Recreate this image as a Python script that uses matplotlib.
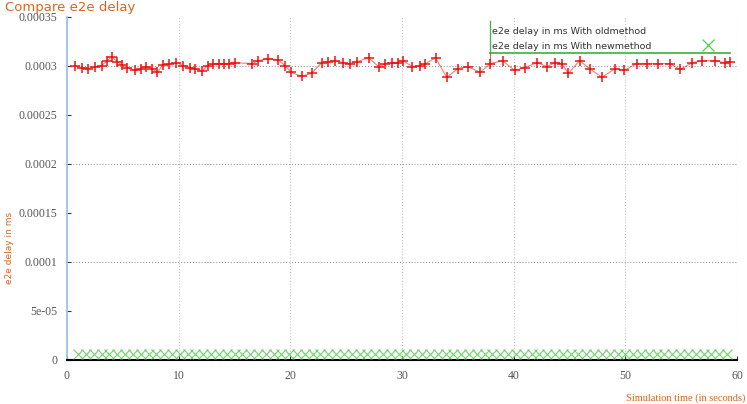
import matplotlib
matplotlib.use("Agg")
import matplotlib.pyplot as plt
import numpy as np

# ---- data ----
old_t = [0.7, 1.3, 1.9, 2.5, 3.1, 3.6, 4.0, 4.5, 4.9, 5.4, 6.1, 6.6, 7.1, 7.6, 8.1, 8.6, 9.1, 9.8,
         10.4, 11.0, 11.5, 12.1, 12.6, 13.1, 13.6, 14.1, 14.5, 15.0,
         16.6, 17.1, 18.0, 18.9, 19.5, 20.1, 21.0, 21.9, 22.8, 23.4, 24.0, 24.7, 25.3, 26.0,
         27.0, 27.9, 28.5, 29.1, 29.6, 30.1, 30.9, 31.6, 32.1, 33.0, 34.0, 35.0, 35.9, 37.0,
         37.9, 39.0, 40.1, 41.0, 42.1, 43.0, 43.7, 44.3, 44.9, 45.9, 46.8, 47.9, 49.1, 49.9,
         51.0, 51.9, 52.9, 54.0, 54.9, 56.0, 56.9, 58.0, 58.9, 59.4]
old_v = [0.0003000, 0.0002975, 0.0002970, 0.0002985, 0.0003000, 0.0003050, 0.0003090, 0.0003040, 0.0003005, 0.0002980,
         0.0002950, 0.0002970, 0.0002990, 0.0002970, 0.0002930, 0.0003010, 0.0003015, 0.0003030,
         0.0003000, 0.0002980, 0.0002970, 0.0002940, 0.0003000, 0.0003020, 0.0003020, 0.0003020,
         0.0003020, 0.0003030,
         0.0003020, 0.0003050, 0.0003070, 0.0003060, 0.0003000, 0.0002930, 0.0002890, 0.0002920,
         0.0003030, 0.0003040, 0.0003050, 0.0003030, 0.0003020, 0.0003040,
         0.0003080, 0.0002990, 0.0003020, 0.0003030, 0.0003030, 0.0003050, 0.0002990, 0.0003000,
         0.0003020, 0.0003080, 0.0002880, 0.0002970, 0.0002990, 0.0002930,
         0.0003020, 0.0003050, 0.0002950, 0.0002980, 0.0003030, 0.0002990, 0.0003030, 0.0003020,
         0.0002920, 0.0003050, 0.0002970, 0.0002880, 0.0002970, 0.0002950,
         0.0003020, 0.0003020, 0.0003020, 0.0003020, 0.0002960, 0.0003030, 0.0003050, 0.0003050,
         0.0003030, 0.0003040]

new_t = [1.0, 1.7, 2.4, 3.1, 3.8, 4.5, 5.2, 5.9, 6.6, 7.3, 8.0, 8.7, 9.4, 10.1, 10.8, 11.5, 12.2,
         12.9, 13.6, 14.3, 15.0, 15.7, 16.4, 17.1, 17.8, 18.5, 19.2, 19.9, 20.6, 21.3, 22.0, 22.7,
         23.4, 24.1, 24.8, 25.5, 26.2, 26.9, 27.6, 28.3, 29.0, 29.7, 30.4, 31.1, 31.8, 32.5, 33.2,
         33.9, 34.6, 35.3, 36.0, 36.7, 37.4, 38.1, 38.8, 39.5, 40.2, 40.9, 41.6, 42.3, 43.0, 43.7,
         44.4, 45.1, 45.8, 46.5, 47.2, 47.9, 48.6, 49.3, 50.0, 50.7, 51.4, 52.1, 52.8, 53.5, 54.2,
         54.9, 55.6, 56.3, 57.0, 57.7, 58.4, 59.1]
new_v = [6.0e-6, 6.0e-6, 6.1e-6, 6.0e-6, 5.9e-6, 6.0e-6, 6.0e-6, 6.1e-6, 6.0e-6, 6.0e-6, 5.9e-6, 6.0e-6,
         6.0e-6, 6.0e-6, 6.1e-6, 6.0e-6, 6.0e-6, 5.9e-6, 6.0e-6, 6.0e-6, 6.0e-6, 6.1e-6, 6.0e-6, 6.0e-6,
         6.0e-6, 5.9e-6, 6.0e-6, 6.0e-6, 6.0e-6, 6.1e-6, 6.0e-6, 6.0e-6, 6.0e-6, 5.9e-6, 6.0e-6, 6.0e-6,
         6.0e-6, 6.1e-6, 6.0e-6, 6.0e-6, 6.0e-6, 5.9e-6, 6.0e-6, 6.0e-6, 6.0e-6, 6.1e-6, 6.0e-6, 6.0e-6,
         6.0e-6, 5.9e-6, 6.0e-6, 6.0e-6, 6.0e-6, 6.1e-6, 6.0e-6, 6.0e-6, 6.0e-6, 5.9e-6, 6.0e-6, 6.0e-6,
         6.0e-6, 6.1e-6, 6.0e-6, 6.0e-6, 6.0e-6, 5.9e-6, 6.0e-6, 6.0e-6, 6.0e-6, 6.1e-6, 6.0e-6, 6.0e-6,
         6.0e-6, 5.9e-6, 6.0e-6, 6.0e-6, 6.0e-6, 6.1e-6, 6.0e-6, 6.0e-6, 6.0e-6, 5.9e-6, 6.0e-6, 6.0e-6]

x_ticks = [0, 10, 20, 30, 40, 50, 60]
y_ticks = [0, 5e-05, 0.0001, 0.00015, 0.0002, 0.00025, 0.0003, 0.00035]
y_tick_labels = ["0", "5e-05", "0.0001", "0.00015", "0.0002", "0.00025", "0.0003", "0.00035"]
legend_labels = ["e2e delay in ms With oldmethod", "e2e delay in ms With newmethod"]

orange = "#d9661f"
red = "#ee1111"
green = "#55cc55"

fig = plt.figure(figsize=(7.47, 4.04), dpi=100)
ax = fig.add_axes([67/747, 1-360/404, 670/747, (360-16.5)/404])
ax.set_xlim(0, 60)
ax.set_ylim(0, 0.00035)

# grid
for xv in x_ticks[1:-1]:
    ax.axvline(xv, color="#bbbbbb", lw=0.7, ls=(0, (1, 2)), zorder=0)
ax.axvline(60, color="#999999", lw=0.8, ls=(0, (1, 2)), zorder=0)
for yv in [0.0001, 0.0002, 0.0003]:
    ax.axhline(yv, color="#888888", lw=0.7, ls=(0, (1, 2)), zorder=0)

# series
ax.plot(old_t, old_v, color=red, lw=0.8, alpha=0.55, zorder=2)
ax.plot(old_t, old_v, ls="none", marker="+", ms=7, mew=1.1, color=red, zorder=3)
ax.plot(new_t, new_v, ls="none", marker="x", ms=7, mew=0.8, color=green, alpha=0.85, zorder=3)

# key (gnuplot style)
ax.plot([37.9, 59.4], [0.0003124, 0.0003124], color="#44bb44", lw=1.3, zorder=4)
ax.plot([37.9, 37.9], [0.0003124, 0.000345], color="#44bb44", lw=1.0, zorder=4)
ax.plot([37.9, 37.9], [0.0003, 0.0003124], color=red, lw=0.7, alpha=0.7, zorder=4)
ax.plot([57.4], [0.000321], ls="none", marker="x", ms=8, mew=0.9, color=green, zorder=4)
ax.text(38.1, 0.0003345, legend_labels[0], fontsize=6.8, color="#333333", va="center", ha="left",
        family="DejaVu Sans")
ax.text(38.1, 0.0003195, legend_labels[1], fontsize=6.8, color="#333333", va="center", ha="left",
        family="DejaVu Sans")

# spines
ax.spines["top"].set_visible(False)
ax.spines["right"].set_visible(False)
ax.spines["left"].set_color("#9cc3e6")
ax.spines["left"].set_linewidth(1.3)
ax.spines["bottom"].set_color("black")
ax.spines["bottom"].set_linewidth(1.5)

ax.set_xticks(x_ticks)
ax.set_xticklabels([str(v) for v in x_ticks])
ax.set_yticks(y_ticks)
ax.set_yticklabels(y_tick_labels)
ax.tick_params(axis="both", direction="in", length=3, width=0.8, color="#333333",
               labelsize=8.5, labelcolor="#555555", pad=7)
for lab in ax.get_xticklabels() + ax.get_yticklabels():
    lab.set_family("Liberation Serif")

fig.text(5/747, 1-0.5/404, "Compare e2e delay", color=orange, fontsize=9.5, ha="left", va="top",
         family="DejaVu Sans")
fig.text(10/747, 1-248/404, "e2e delay in ms", color=orange, fontsize=6.5, rotation=90,
         ha="center", va="center", family="DejaVu Sans")
fig.text(745/747, 1-398/404, "Simulation time (in seconds)", color=orange, fontsize=7.5,
         ha="right", va="center", family="Liberation Serif")

fig.savefig("out.png", dpi=100)
